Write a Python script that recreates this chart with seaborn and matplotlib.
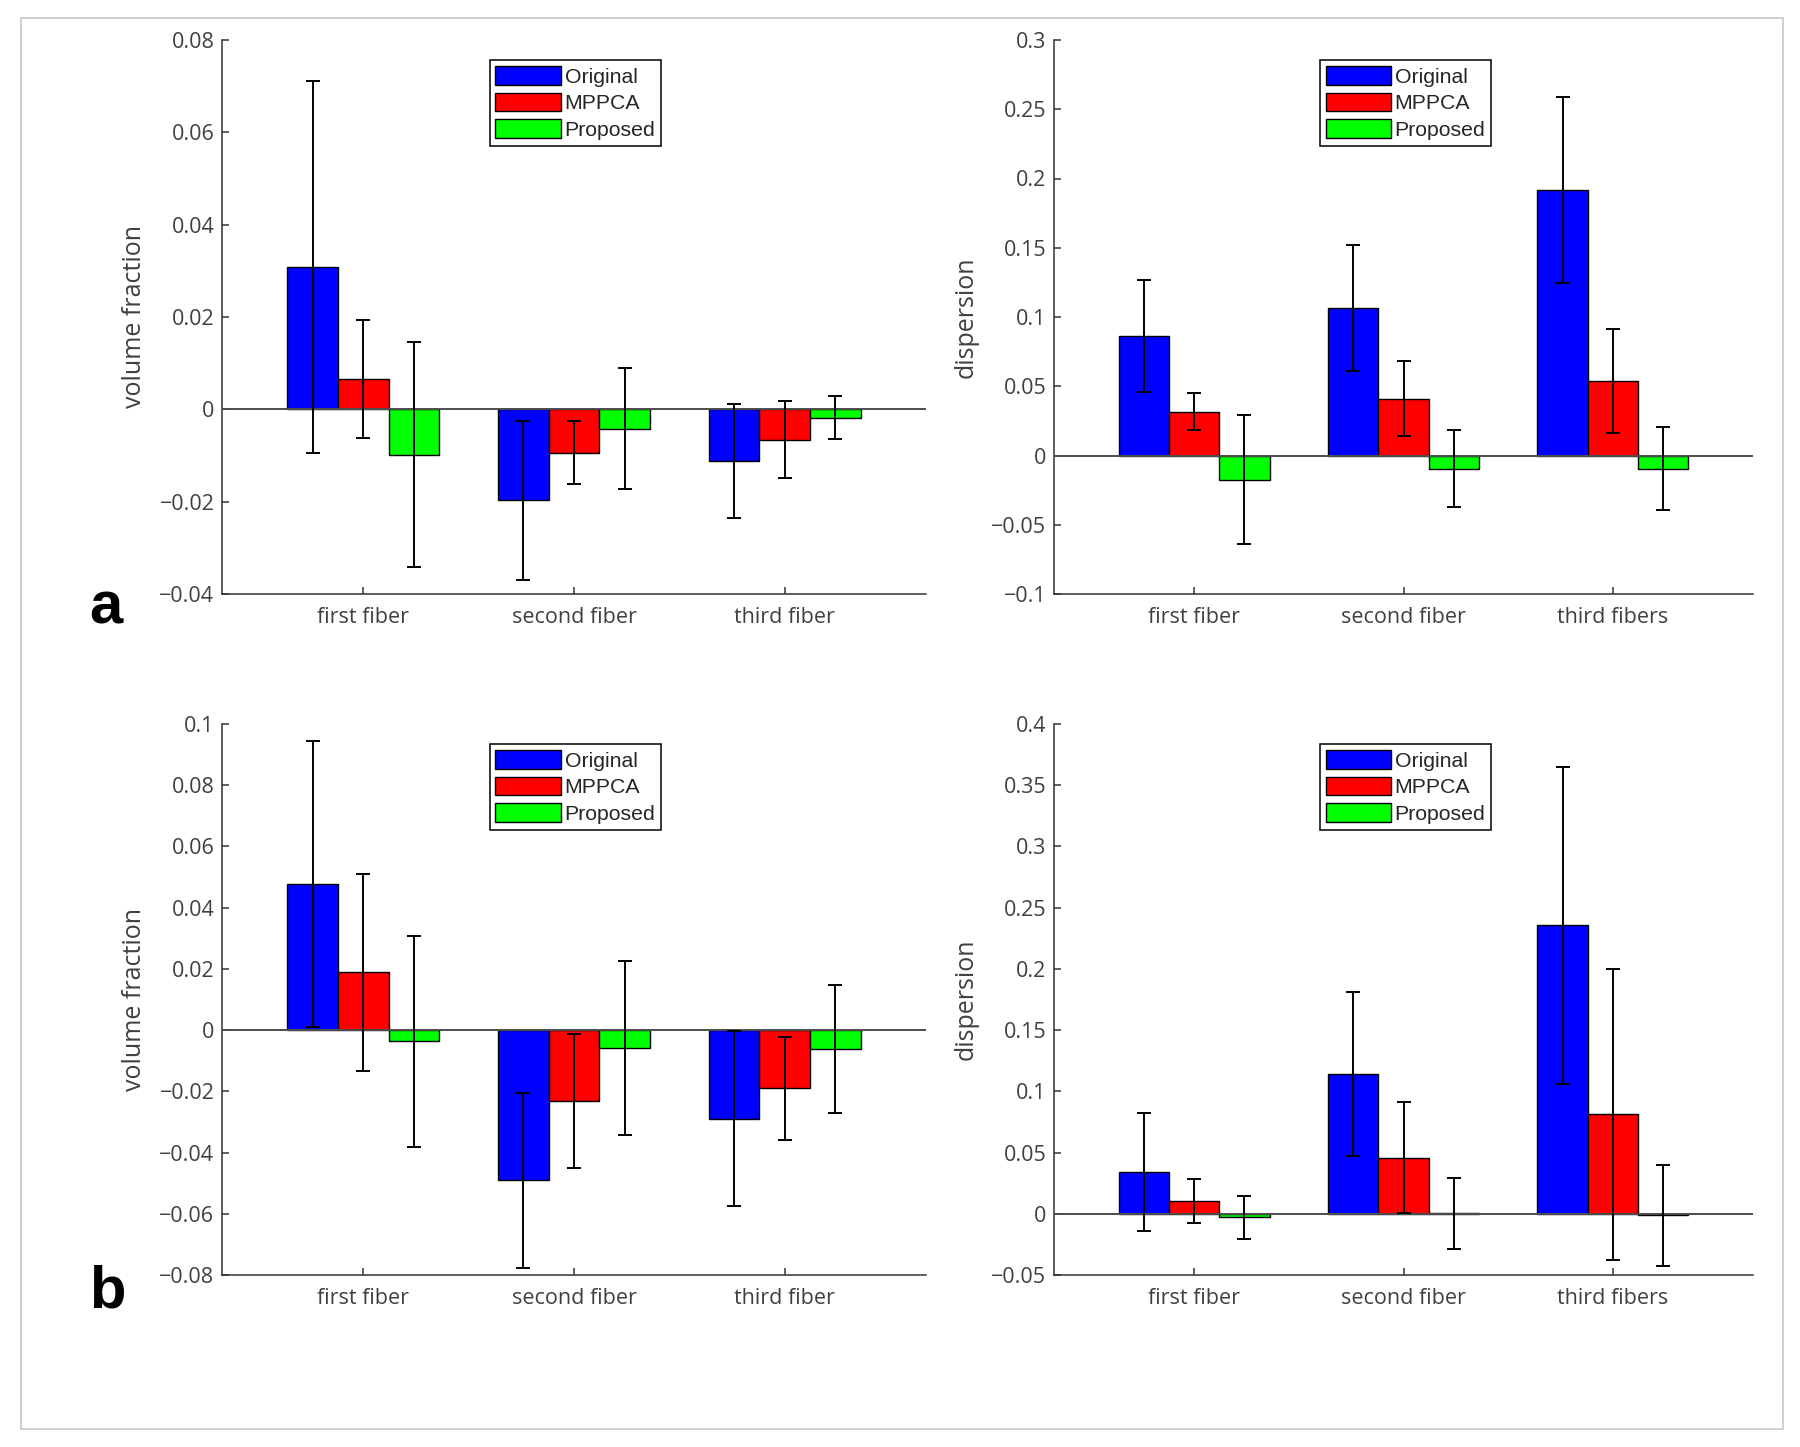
import numpy as np
import pandas as pd
import matplotlib
matplotlib.use("Agg")
import matplotlib.pyplot as plt
import seaborn as sns
from matplotlib.patches import Rectangle
from matplotlib.container import BarContainer

# ---------------- data ----------------
methods = ["Original", "MPPCA", "Proposed"]
colors = ["#0000ff", "#ff0000", "#00ff00"]

cats_a_left = ["first fiber", "second fiber", "third fiber"]
cats_a_right = ["first fiber", "second fiber", "third fibers"]

# panel a, volume fraction (rows: fibers; cols: Original, MPPCA, Proposed)
a_vf_mean = [[0.0308, 0.0066, -0.0098],
             [-0.0197, -0.0094, -0.0042],
             [-0.0112, -0.0066, -0.0018]]
a_vf_err = [[0.0403, 0.0128, 0.0244],
            [0.0172, 0.0068, 0.0131],
            [0.0124, 0.0083, 0.0047]]

# panel a, dispersion
a_dp_mean = [[0.0864, 0.0315, -0.0174],
             [0.1064, 0.0410, -0.0094],
             [0.1916, 0.0540, -0.0094]]
a_dp_err = [[0.0402, 0.0134, 0.0463],
            [0.0454, 0.0271, 0.0276],
            [0.0670, 0.0375, 0.0298]]

# panel b, volume fraction
b_vf_mean = [[0.0477, 0.0189, -0.0037],
             [-0.0491, -0.0232, -0.0058],
             [-0.0290, -0.0190, -0.0062]]
b_vf_err = [[0.0467, 0.0321, 0.0345],
            [0.0287, 0.0219, 0.0284],
            [0.0286, 0.0169, 0.0210]]

# panel b, dispersion
b_dp_mean = [[0.0342, 0.0103, -0.0027],
             [0.1145, 0.0458, 0.0003],
             [0.2357, 0.0813, -0.0013]]
b_dp_err = [[0.0480, 0.0178, 0.0176],
            [0.0670, 0.0452, 0.0290],
            [0.1295, 0.1190, 0.0410]]

yt_a_vf = [-0.04, -0.02, 0, 0.02, 0.04, 0.06, 0.08]
yl_a_vf = ["\u22120.04", "\u22120.02", "0", "0.02", "0.04", "0.06", "0.08"]
yt_a_dp = [-0.1, -0.05, 0, 0.05, 0.1, 0.15, 0.2, 0.25, 0.3]
yl_a_dp = ["\u22120.1", "\u22120.05", "0", "0.05", "0.1", "0.15", "0.2", "0.25", "0.3"]
yt_b_vf = [-0.08, -0.06, -0.04, -0.02, 0, 0.02, 0.04, 0.06, 0.08, 0.1]
yl_b_vf = ["\u22120.08", "\u22120.06", "\u22120.04", "\u22120.02", "0", "0.02", "0.04",
           "0.06", "0.08", "0.1"]
yt_b_dp = [-0.05, 0, 0.05, 0.1, 0.15, 0.2, 0.25, 0.3, 0.35, 0.4]
yl_b_dp = ["\u22120.05", "0", "0.05", "0.1", "0.15", "0.2", "0.25", "0.3", "0.35", "0.4"]

# ---------------- style ----------------
sns.set_theme(style="white")
plt.rcParams["font.family"] = ["Open Sans", "DejaVu Sans"]
TXT = "#404040"
LEG_FONT = ["Liberation Sans", "DejaVu Sans"]

fig = plt.figure(figsize=(18, 14.47), dpi=100)
fig.patches.append(Rectangle((21 / 1800, 1 - 1429 / 1447), 1762 / 1800, 1411 / 1447,
                             transform=fig.transFigure, fill=False,
                             edgecolor="#c8c8c8", lw=1.2, zorder=0))

positions = {
    "a_vf": [222 / 1800, 1 - 594 / 1447, 704 / 1800, 554 / 1447],
    "a_dp": [1054 / 1800, 1 - 594 / 1447, 699 / 1800, 554 / 1447],
    "b_vf": [222 / 1800, 1 - 1275 / 1447, 704 / 1800, 551 / 1447],
    "b_dp": [1054 / 1800, 1 - 1275 / 1447, 699 / 1800, 551 / 1447],
}


def panel(key, cats, mean, err, yticks, ylabels, ylabel):
    ax = fig.add_axes(positions[key])
    rows = []
    for i, c in enumerate(cats):
        for j, m in enumerate(methods):
            rows.append({"fiber": c, "method": m, "value": mean[i][j]})
    df = pd.DataFrame(rows)
    sns.barplot(data=df, x="fiber", y="value", hue="method", order=cats,
                hue_order=methods, palette=colors, errorbar=None, width=0.72,
                gap=0, edgecolor="black", linewidth=1.0, saturation=1, ax=ax)
    bar_conts = [c for c in ax.containers if isinstance(c, BarContainer)]
    for j, cont in enumerate(bar_conts):
        xs = [b.get_x() + b.get_width() / 2 for b in cont]
        ys = [mean[i][j] for i in range(len(cats))]
        ax.errorbar(xs, ys, yerr=[err[i][j] for i in range(len(cats))],
                    fmt="none", ecolor="black", elinewidth=1.4, capsize=5,
                    capthick=1.4, zorder=5)
    ax.axhline(0, color="#4d4d4d", lw=1.4, zorder=4)
    ax.set_xlim(-0.67, 2.67)
    ax.set_ylim(yticks[0], yticks[-1])
    ax.set_yticks(yticks)
    ax.set_yticklabels(ylabels)
    ax.set_xlabel("")
    ax.set_ylabel(ylabel, fontsize=18, color=TXT, labelpad=9)
    for s in ["top", "right"]:
        ax.spines[s].set_visible(False)
    for s in ["left", "bottom"]:
        ax.spines[s].set_color("#333333")
        ax.spines[s].set_linewidth(1.1)
    ax.tick_params(axis="both", direction="in", length=5, width=1.1,
                   colors="#333333", labelcolor=TXT, labelsize=15.5, pad=5.5)
    ax.tick_params(axis="x", pad=9.5)
    ax.tick_params(axis="both", bottom=True, left=True)
    h, l = ax.get_legend_handles_labels()
    leg = ax.legend(h, l, loc="upper left", bbox_to_anchor=(0.38, 0.963),
                    frameon=True, fancybox=False, edgecolor="black", framealpha=1,
                    prop={"family": LEG_FONT, "size": 15.3},
                    handlelength=3.1, handleheight=0.95,
                    labelspacing=0.28, borderpad=0.28, handletextpad=0.15,
                    borderaxespad=0)
    leg.get_frame().set_linewidth(1.1)
    return ax


panel("a_vf", cats_a_left, a_vf_mean, a_vf_err, yt_a_vf, yl_a_vf, "volume fraction")
panel("a_dp", cats_a_right, a_dp_mean, a_dp_err, yt_a_dp, yl_a_dp, "dispersion")
panel("b_vf", cats_a_left, b_vf_mean, b_vf_err, yt_b_vf, yl_b_vf, "volume fraction")
panel("b_dp", cats_a_right, b_dp_mean, b_dp_err, yt_b_dp, yl_b_dp, "dispersion")

fig.text(89 / 1800, 1 - 624 / 1447, "a", fontsize=43, fontweight="bold",
         family=["Liberation Sans", "DejaVu Sans"], color="black", va="baseline")
fig.text(89 / 1800, 1 - 1307 / 1447, "b", fontsize=43, fontweight="bold",
         family=["Liberation Sans", "DejaVu Sans"], color="black", va="baseline")

fig.savefig("out.png", dpi=100, facecolor="white")
